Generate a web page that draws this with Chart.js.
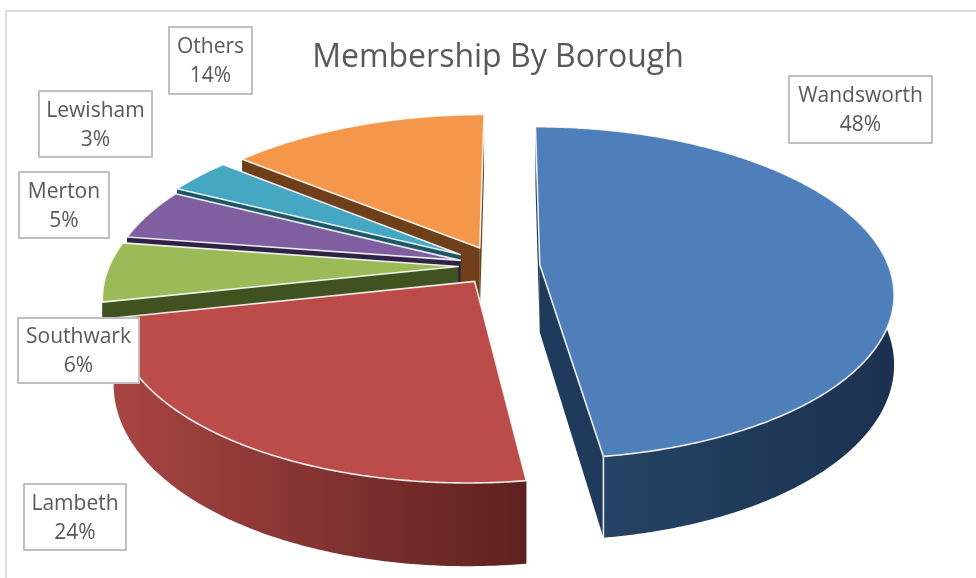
<!DOCTYPE html>
<html><head><meta charset="utf-8">
<style>html,body{margin:0;padding:0;background:#fff}canvas{display:block}</style>
<script src="https://cdn.jsdelivr.net/npm/chart.js@4/dist/chart.umd.min.js"></script>
</head><body><canvas id="c" width="976" height="578"></canvas>
<script>
const categories = ['Wandsworth','Lambeth','Southwark','Merton','Lewisham','Others'];
const shares = [47.8,23.8,5.8,5.0,3.45,14.15];
const faceColors = ['#4f7fba','#bc4c4a','#9bbb59','#7f5f9f','#45a7c2','#f4974a'];
const wallColors = ['#1f3a5a','#8a3735','#3f5220','#2e2145','#1c5766','#6e3f18'];
const explode = [42,40,40,40,46,44];
const paintOrder = [5,4,3,2,0,1];
const labelBoxes = [[789,76,143,67],[24,484,102,66],[18,318,121,65],[19,172,90,66],[39,91,113,66],[169,27,83,67]];

const VIEW = {R:350, sy:0.465, p:0.17, depth:68, dx:12, dy:6, cy:-7};

const wallRamp = {0:['#254364','#1c3150'],1:['#a84542','#5e2120']};

const pie3d = {
  id:'pie3d',
  beforeDraw(chart){
    const c=chart.ctx;
    c.save();c.fillStyle='#fff';c.fillRect(0,0,976,578);
    c.strokeStyle='#dcdcdc';c.lineWidth=2;c.beginPath();c.moveTo(6,578);c.lineTo(6,11);c.lineTo(976,11);c.stroke();c.restore();
  },
  beforeDatasetDraw(chart,args){
    const c=chart.ctx, meta=args.meta, V=VIEW;
    paintOrder.forEach(i=>{
      const el=meta.data[i];
      const {x,y,startAngle,endAngle}=el.getProps(['x','y','startAngle','endAngle'],true);
      const off=el.options.offset||0;
      const vx=x+V.dx, vy=y+V.dy;
      const a0=startAngle+Math.PI/2, a1=endAngle+Math.PI/2, mid=(a0+a1)/2;
      const tx=x-vx+off*Math.sin(mid), ty=V.cy-off*Math.cos(mid);
      const P=(gx,gy,d)=>{const w=1-V.p*gy/V.R;return [vx+gx/w, vy+V.sy*gy/w+d/w];};
      const rim=(a,d)=>P(tx+V.R*Math.sin(a),ty-V.R*Math.cos(a),d);
      const poly=(pts,fill)=>{c.beginPath();pts.forEach((p,k)=>k?c.lineTo(p[0],p[1]):c.moveTo(p[0],p[1]));c.closePath();c.fillStyle=fill;c.fill();};
      const n=Math.max(12,Math.round((a1-a0)*120));
      // radial walls
      [a0,a1].forEach(a=>{
        poly([P(tx,ty,0),rim(a,0),rim(a,V.depth),P(tx,ty,V.depth)],wallColors[i]);
      });
      // outer wall as one shape with a horizontal shade
      const lo=Math.max(a0,60*Math.PI/180), hi=Math.min(a1,300*Math.PI/180);
      if(hi>lo){
        const upper=[],lower=[];
        for(let k=0;k<=n;k++){const a=lo+(hi-lo)*k/n;upper.push(rim(a,0));lower.unshift(rim(a,V.depth));}
        const pts=upper.concat(lower);
        let fill=wallColors[i];
        const r=wallRamp[i];
        if(r){
          const xs=pts.map(p=>p[0]);
          const g=c.createLinearGradient(Math.min(...xs),0,Math.max(...xs),0);
          g.addColorStop(0,r[0]);g.addColorStop(1,r[1]);
          fill=g;
        }
        poly(pts,fill);
      }
      // top face
      c.beginPath();
      const t0=P(tx,ty,0);c.moveTo(t0[0],t0[1]);
      for(let k=0;k<=n;k++){const p=rim(a0+(a1-a0)*k/n,0);c.lineTo(p[0],p[1]);}
      c.closePath();c.fillStyle=faceColors[i];c.fill();
      c.strokeStyle='rgba(255,255,255,0.88)';c.lineWidth=1.6;c.lineJoin='round';c.stroke();
      const deg1=a1*180/Math.PI;
      if(deg1<180&&deg1>90){const u=rim(a1,0),v=rim(a1,V.depth);c.beginPath();c.moveTo(u[0],u[1]);c.lineTo(v[0],v[1]);c.stroke();}
    });
    return false;
  },
  afterDraw(chart){
    const c=chart.ctx;
    c.save();
    categories.forEach((name,i)=>{
      const b=labelBoxes[i];
      c.fillStyle='#fff';c.fillRect(b[0],b[1],b[2],b[3]);
      c.strokeStyle='#bfbfbf';c.lineWidth=2;c.strokeRect(b[0],b[1],b[2],b[3]);
      c.fillStyle='#595959';c.font='21px "Open Sans"';c.textAlign='center';c.textBaseline='middle';
      const mx=b[0]+b[2]/2,my=b[1]+b[3]/2;
      c.fillText(name,mx,my-13);
      c.fillText(Math.round(shares[i])+'%',mx,my+16);
    });
    c.restore();
  }
};

new Chart(document.getElementById('c'),{
  type:'pie',
  data:{labels:categories,datasets:[{data:shares,backgroundColor:faceColors,offset:explode,borderWidth:0}]},
  plugins:[pie3d],
  options:{
    responsive:false,animation:false,
    layout:{padding:{left:20,right:0,top:0,bottom:129}},
    plugins:{
      legend:{display:false},tooltip:{enabled:false},
      title:{display:true,text:'Membership By Borough',color:'#595959',
        font:{family:'"Open Sans"',size:32,weight:'normal'},padding:{top:39,bottom:0}}
    }
  }
});
</script></body></html>
